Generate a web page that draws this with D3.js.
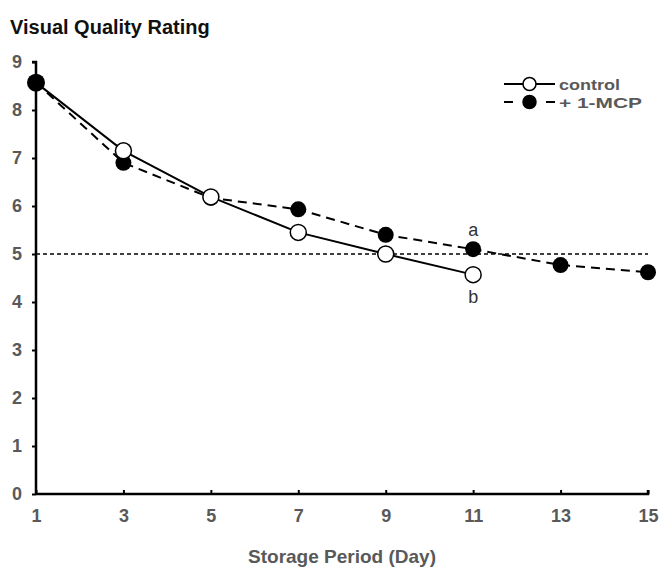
<!doctype html>
<html lang="en">
  <head>
    <meta charset="utf-8">
    <title>Visual Quality Rating</title>
    <style>
      * { margin: 0; padding: 0; }
      body { background: #fff; overflow: hidden; }
      svg text { font-family: Arial, "Liberation Sans", sans-serif; }
    </style>
    <script src="https://d3js.org/d3.v7.min.js"></script>
  </head>
  <body>
    <svg id="chart" width="662" height="567"></svg>
    <script>
      const days = [1, 3, 5, 7, 9, 11, 13, 15];
      const control = [8.57, 7.15, 6.19, 5.45, 5.0, 4.57];
      const mcp = [8.57, 6.9, 6.17, 5.93, 5.4, 5.1, 4.77, 4.62];
      const yTicks = [0, 1, 2, 3, 4, 5, 6, 7, 8, 9];
      const refLevel = 5;
      const letters = [{ day: 11, text: "a", series: "mcp" }, { day: 11, text: "b", series: "control" }];

      const svg = d3.select("#chart");
      const grey = "#595959";
      const font = "Arial, 'Liberation Sans', sans-serif";

      const x = d3.scaleLinear().domain([1, 15]).range([36, 648]);
      const y = d3.scaleLinear().domain([0, 9]).range([494, 62]);

      // title
      svg.append("text")
        .attr("x", 10).attr("y", 34)
        .attr("font-size", 20).attr("font-weight", "bold").attr("fill", "#111")
        .text("Visual Quality Rating");

      // axes
      const yAxis = svg.append("g")
        .attr("transform", `translate(${x(1)},0)`)
        .call(d3.axisLeft(y).tickValues(yTicks).tickSize(4).tickPadding(10));
      const xAxis = svg.append("g")
        .attr("transform", `translate(0,${y(0)})`)
        .call(d3.axisBottom(x).tickValues(days).tickSize(-4).tickPadding(15));

      [xAxis, yAxis].forEach(ax => {
        ax.select(".domain").attr("stroke", "#000").attr("stroke-width", 2.5);
        ax.selectAll(".tick line").attr("stroke", "#000").attr("stroke-width", 2);
        ax.selectAll(".tick text")
          .attr("font-size", 18).attr("font-weight", "bold").attr("fill", grey)
          .style("font-family", font);
      });
      yAxis.select(".domain").attr("d", `M-4,${y(9)}H0V${y(0)}`);
      xAxis.select(".domain").attr("d", `M${x(1)},0H${x(15)}V-4`);

      // axis label
      svg.append("text")
        .attr("x", 342).attr("y", 563)
        .attr("text-anchor", "middle")
        .attr("font-size", 19).attr("font-weight", "bold").attr("fill", grey)
        .text("Storage Period (Day)");

      // reference line
      svg.append("line")
        .attr("x1", x(1)).attr("x2", x(15))
        .attr("y1", y(refLevel)).attr("y2", y(refLevel))
        .attr("stroke", "#000").attr("stroke-width", 1.3)
        .attr("stroke-dasharray", "4,3");

      const line = d3.line().x(d => x(d.day)).y(d => y(d.v));
      const ctrlData = control.map((v, i) => ({ day: days[i], v }));
      const mcpData = mcp.map((v, i) => ({ day: days[i], v }));

      svg.append("path").datum(mcpData)
        .attr("d", line).attr("fill", "none")
        .attr("stroke", "#000").attr("stroke-width", 2)
        .attr("stroke-dasharray", "9,6");
      svg.append("path").datum(ctrlData)
        .attr("d", line).attr("fill", "none")
        .attr("stroke", "#000").attr("stroke-width", 2);

      svg.append("g").selectAll("circle").data(mcpData).join("circle")
        .attr("cx", d => x(d.day)).attr("cy", d => y(d.v)).attr("r", 8)
        .attr("fill", "#000");
      svg.append("g").selectAll("circle").data(ctrlData.slice(1)).join("circle")
        .attr("cx", d => x(d.day)).attr("cy", d => y(d.v)).attr("r", 8)
        .attr("fill", "#fff").attr("stroke", "#000").attr("stroke-width", 1.5);
      // day 1 marker shared by both series; filled one sits on top
      svg.append("circle")
        .attr("cx", x(mcpData[0].day)).attr("cy", y(mcpData[0].v)).attr("r", 9)
        .attr("fill", "#000");

      // significance letters
      svg.append("g").selectAll("text").data(letters).join("text")
        .attr("x", d => x(d.day))
        .attr("y", d => {
          const i = days.indexOf(d.day);
          return d.series === "mcp" ? y(mcp[i]) - 13 : y(control[i]) + 28;
        })
        .attr("text-anchor", "middle")
        .attr("font-size", 18).attr("fill", "#333")
        .text(d => d.text);

      // legend
      const legend = svg.append("g");
      const rows = [
        { label: "control", dash: null, fill: "#fff", len: 61 },
        { label: "+ 1-MCP", dash: "9,33,9", fill: "#000", len: 83 }
      ];
      rows.forEach((r, i) => {
        const ly = 84 + i * 18;
        legend.append("line")
          .attr("x1", 504).attr("x2", 555).attr("y1", ly).attr("y2", ly)
          .attr("stroke", "#000").attr("stroke-width", 2)
          .attr("stroke-dasharray", r.dash);
        legend.append("circle")
          .attr("cx", 529.5).attr("cy", ly).attr("r", 6.5)
          .attr("fill", r.fill).attr("stroke", "#000").attr("stroke-width", 1.5);
        legend.append("text")
          .attr("x", 559).attr("y", ly + 5.5)
          .attr("font-size", 15.5).attr("font-weight", "bold").attr("fill", grey)
          .attr("textLength", r.len).attr("lengthAdjust", "spacingAndGlyphs")
          .text(r.label);
      });
    </script>
  </body>
</html>
